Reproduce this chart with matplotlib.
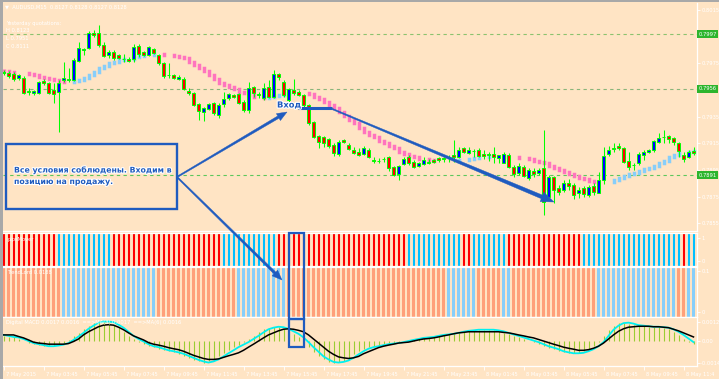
import numpy as np
import matplotlib
matplotlib.use("Agg")
import matplotlib.pyplot as plt
from matplotlib.patches import Rectangle, Polygon
from matplotlib.transforms import ScaledTranslation
import matplotlib.patheffects as pe

# ---------------- DATA (AUDUSD M15, prices in points = 1e-5) ----------------
open_pts = [79685, 79678, 79670, 79640, 79640, 79543, 79528, 79528, 79618, 79603,
            79550, 79535, 79625, 79625, 79625, 79768, 79850, 79865, 79978, 79978,
            79888, 79813, 79835, 79813, 79783, 79783, 79783, 79880, 79835, 79813,
            79858, 79813, 79753, 79663, 79663, 79633, 79633, 79543, 79528, 79445,
            79385, 79408, 79453, 79363, 79445, 79490, 79513, 79520, 79460, 79400,
            79573, 79520, 79490, 79573, 79498, 79670, 79610, 79475, 79550, 79535,
            79513, 79438, 79310, 79205, 79198, 79183, 79138, 79070, 79175, 79138,
            79100, 79085, 79070, 79100, 79025, 79018, 79033, 79048, 78973, 78920,
            78995, 79048, 79010, 78980, 78995, 79010, 79025, 79040, 79040, 79048,
            79063, 79048, 79115, 79078, 79093, 79100, 79070, 79070, 79070, 79040,
            79003, 79063, 78973, 78928, 78973, 78890, 78943, 78928, 78965, 78748,
            78898, 78815, 78800, 78853, 78838, 78778, 78815, 78763, 78830, 78778,
            78875, 79070, 79115, 79130, 79115, 79018, 78988, 79003, 79063, 79085,
            79100, 79160, 79198, 79205, 79190, 79153, 79063, 79048, 79093]
high_pts = [79700, 79693, 79685, 79670, 79655, 79565, 79550, 79618, 79633, 79610,
            79603, 79625, 79760, 79715, 79790, 79910, 79865, 79993, 80000, 80038,
            79910, 79850, 79850, 79820, 79820, 79798, 79895, 79895, 79843, 79880,
            79865, 79820, 79760, 79753, 79670, 79663, 79648, 79565, 79535, 79453,
            79423, 79453, 79460, 79453, 79535, 79528, 79520, 79528, 79475, 79610,
            79580, 79535, 79603, 79625, 79700, 79678, 79625, 79565, 79633, 79550,
            79520, 79445, 79318, 79213, 79205, 79190, 79153, 79175, 79183, 79153,
            79123, 79115, 79130, 79115, 79048, 79040, 79048, 79055, 78980, 78988,
            79048, 79063, 79025, 79010, 79048, 79033, 79033, 79048, 79048, 79063,
            79175, 79123, 79123, 79123, 79108, 79115, 79100, 79085, 79123, 79063,
            79085, 79078, 78988, 79003, 78988, 78965, 78965, 78965, 79250, 78913,
            78905, 78838, 78875, 78883, 78853, 78823, 78830, 78838, 78853, 78935,
            79123, 79130, 79153, 79153, 79123, 79085, 79003, 79085, 79100, 79108,
            79175, 79228, 79250, 79213, 79198, 79160, 79085, 79100, 79123]
low_pts = [79663, 79640, 79618, 79625, 79520, 79513, 79513, 79520, 79588, 79520,
           79453, 79235, 79610, 79610, 79618, 79760, 79813, 79858, 79948, 79873,
           79798, 79790, 79775, 79783, 79760, 79760, 79760, 79798, 79805, 79805,
           79820, 79738, 79640, 79640, 79633, 79625, 79550, 79513, 79430, 79325,
           79318, 79400, 79363, 79340, 79423, 79475, 79490, 79445, 79385, 79378,
           79498, 79490, 79475, 79490, 79490, 79625, 79498, 79460, 79513, 79505,
           79423, 79288, 79190, 79115, 79123, 79115, 79055, 79055, 79153, 79100,
           79070, 79055, 79063, 79040, 79003, 79003, 79010, 78943, 78905, 78875,
           78988, 78988, 78965, 78973, 78988, 78995, 79003, 79010, 79010, 79010,
           79010, 79040, 79078, 79070, 79048, 79048, 79033, 79018, 79003, 79003,
           79003, 78965, 78898, 78913, 78898, 78875, 78898, 78913, 78613, 78740,
           78703, 78763, 78785, 78800, 78733, 78740, 78748, 78748, 78763, 78778,
           78845, 79055, 79085, 79100, 79003, 78950, 78950, 78988, 79025, 79078,
           79085, 79153, 79153, 79153, 79138, 79048, 79010, 79040, 79063]
close_pts = [79678, 79655, 79633, 79663, 79528, 79535, 79543, 79610, 79603, 79528,
             79520, 79603, 79640, 79633, 79775, 79865, 79858, 79978, 79963, 79888,
             79805, 79835, 79790, 79790, 79779, 79768, 79873, 79820, 79813, 79873,
             79828, 79753, 79655, 79659, 79640, 79648, 79558, 79528, 79438, 79393,
             79415, 79445, 79378, 79438, 79483, 79520, 79498, 79453, 79400, 79565,
             79528, 79516, 79565, 79498, 79670, 79648, 79513, 79558, 79528, 79513,
             79438, 79303, 79198, 79160, 79153, 79130, 79078, 79160, 79160, 79108,
             79078, 79063, 79115, 79048, 79021, 79014, 79029, 78965, 78913, 78980,
             79033, 79003, 78973, 79003, 79025, 79006, 79010, 79025, 79036, 79044,
             79048, 79100, 79085, 79100, 79089, 79055, 79055, 79066, 79048, 79063,
             79070, 78973, 78920, 78980, 78905, 78950, 78920, 78950, 78710, 78898,
             78800, 78785, 78853, 78830, 78763, 78800, 78770, 78823, 78785, 78875,
             79055, 79100, 79111, 79115, 79010, 78973, 78984, 79070, 79085, 79100,
             79168, 79190, 79194, 79183, 79160, 79093, 79033, 79085, 79078]
ma_pts = [79693, 79685, 79681, 79678, 79674, 79670, 79659, 79648, 79640, 79633,
          79625, 79618, 79610, 79612, 79618, 79625, 79640, 79663, 79685, 79715,
          79730, 79753, 79760, 79775, 79783, 79786, 79798, 79805, 79813, 79816,
          79820, 79819, 79813, 79809, 79805, 79798, 79790, 79760, 79738, 79715,
          79693, 79663, 79633, 79603, 79588, 79573, 79558, 79535, 79528, 79513,
          79498, 79494, 79490, 79498, 79505, 79509, 79520, 79526, 79528, 79530,
          79528, 79520, 79498, 79483, 79460, 79438, 79415, 79385, 79355, 79325,
          79303, 79265, 79235, 79213, 79198, 79168, 79153, 79130, 79115, 79085,
          79070, 79055, 79048, 79033, 79029, 79025, 79018, 79016, 79015, 79014,
          79016, 79025, 79026, 79033, 79040, 79048, 79049, 79055, 79057, 79053,
          79050, 79048, 79046, 79040, 79038, 79033, 79018, 79010, 79003, 78980,
          78965, 78950, 78935, 78920, 78905, 78890, 78883, 78868, 78860, 78858,
          78860, 78862, 78875, 78890, 78905, 78920, 78928, 78943, 78958, 78965,
          78980, 79003, 79018, 79048, 79063, 79078, 79080, 79085, 79093]

# MACD panel (units of 1e-5)
macd_hist = [33, 26, 23, 13, 0, -13, -20, -26, -33, -33,
             -29, -23, -13, 7, 29, 52, 78, 98, 117, 124,
             124, 120, 104, 85, 59, 33, 13, -3, -20, -33,
             -39, -49, -59, -65, -72, -81, -94, -107, -120, -130,
             -137, -130, -117, -98, -78, -59, -39, -23, -7, 13,
             33, 55, 75, 85, 91, 88, 78, 62, 46, 23,
             -7, -39, -68, -98, -117, -133, -137, -133, -124, -107,
             -85, -65, -49, -39, -33, -26, -20, -16, -13, -7,
             0, 7, 13, 20, 23, 26, 33, 39, 42, 46,
             52, 59, 65, 68, 72, 72, 72, 72, 68, 62,
             52, 42, 33, 23, 13, 3, -7, -20, -33, -42,
             -52, -65, -72, -78, -78, -75, -65, -52, -33, -7,
             33, 72, 98, 114, 117, 111, 101, 98, 94, 91,
             91, 88, 85, 75, 59, 39, 16, -7, -20]
macd_ma3 = [39, 33, 26, 23, 13, 0, -13, -20, -26, -33,
            -33, -29, -23, -13, 7, 29, 52, 78, 98, 117,
            124, 124, 120, 104, 85, 59, 33, 13, -3, -20,
            -33, -39, -49, -59, -65, -72, -81, -94, -107, -120,
            -130, -137, -130, -117, -98, -78, -59, -39, -23, -7,
            13, 33, 55, 75, 85, 91, 88, 78, 62, 46,
            23, -7, -39, -68, -98, -117, -133, -137, -133, -124,
            -107, -85, -65, -49, -39, -33, -26, -20, -16, -13,
            -7, 0, 7, 13, 20, 23, 26, 33, 39, 42,
            46, 52, 59, 65, 68, 72, 72, 72, 72, 68,
            62, 52, 42, 33, 23, 13, 3, -7, -20, -33,
            -42, -52, -65, -72, -78, -78, -75, -65, -52, -33,
            -7, 33, 72, 98, 114, 117, 111, 101, 98, 94,
            91, 91, 88, 85, 75, 59, 39, 16, -7]
macd_ma6 = [39, 39, 39, 29, 20, 7, -7, -13, -16, -20,
            -20, -20, -20, -16, -3, 13, 39, 59, 75, 91,
            101, 104, 101, 88, 72, 52, 33, 20, 7, -10,
            -20, -26, -33, -42, -49, -55, -65, -78, -91, -101,
            -111, -117, -117, -114, -104, -94, -85, -75, -59, -39,
            -20, 0, 20, 39, 52, 65, 75, 78, 75, 68,
            59, 39, 13, -13, -39, -65, -85, -101, -107, -111,
            -107, -98, -81, -68, -55, -42, -33, -26, -20, -13,
            -10, -7, 0, 7, 13, 16, 20, 26, 33, 39,
            46, 52, 55, 59, 59, 59, 59, 59, 59, 59,
            55, 52, 46, 39, 33, 26, 20, 10, 0, -10,
            -20, -29, -39, -46, -52, -59, -59, -55, -46, -33,
            -13, 13, 39, 62, 78, 88, 91, 94, 94, 94,
            91, 91, 88, 85, 75, 65, 52, 39, 26]

# signal panel: r = sell (red), b = buy (blue)
signal_state = ("rrrrrrrrrrr" "bbbbbbbbbbb" "rrrrrrrrrrrrrrrrrrrrrr" "bbbbbbbbbbb"
                "rrrrrrrrrrrrrrrrrrrrrrrrrr" "bbbbbbbbbbb" "rr" "bbbbbbb"
                "rrrrrrrrrrrrrrr" "bbbbbbbbbbbbbbbbbbbb" "r" "bb")
# TrendLord panel: s = down (salmon), b = up (light blue)
trend_state = ("ssssssssssss" "bbbbbbbbbbbbbbbbbbb" "ssssssssssssssss" "bbbbbbbbbb"
               "ssssssssssssssssssssssssssssssss" "bbbbbb" "sssss" "bb"
               "sssssssssssssssss" "bbbbbbbbbbbbbbbb" "ss" "bb")

levels = [0.7997, 0.7956, 0.7891]
level_labels = ["0.7997", "0.7956", "0.7891"]
price_ticks = [0.8015, 0.7995, 0.7975, 0.7955, 0.7935, 0.7915, 0.7895, 0.7875, 0.7855]
price_tick_labels = ["0.8015", "", "0.7975", "", "0.7935", "0.7915", "0.7895", "0.7875", "0.7855"]
time_tick_bars = [0, 8, 16, 24, 32, 40, 48, 56, 64, 72, 80, 88, 96, 104, 112, 120, 128, 136]
time_labels = ["7 May 2015", "7 May 03:45", "7 May 05:45", "7 May 07:45", "7 May 09:45",
               "7 May 11:45", "7 May 13:45", "7 May 15:45", "7 May 17:45", "7 May 19:45",
               "7 May 21:45", "7 May 23:45", "8 May 01:45", "8 May 03:45", "8 May 05:45",
               "8 May 07:45", "8 May 09:45", "8 May 11:4"]

# ---------------- FIGURE ----------------
W, H, DPI = 719, 379, 100
BG = '#FFE4C4'
FONT = 'DejaVu Sans'
plt.rcParams['font.family'] = [FONT]
fig = plt.figure(figsize=(W / DPI, H / DPI), dpi=DPI, facecolor=BG)


def rect(x0, y0, x1, y1):
    return [x0 / W, 1 - y1 / H, (x1 - x0) / W, (y1 - y0) / H]


op = np.array(open_pts) / 1e5
hi = np.array(high_pts) / 1e5
lo = np.array(low_pts) / 1e5
cl = np.array(close_pts) / 1e5
ma = np.array(ma_pts) / 1e5
idx = np.arange(len(op))
XL = (-0.1, 138.7)
TICKFS = 3.7

ax1 = fig.add_axes(rect(3, 3, 697, 231))
ax2 = fig.add_axes(rect(3, 233, 697, 266))
ax3 = fig.add_axes(rect(3, 266.5, 697, 316.5))
ax4 = fig.add_axes(rect(3, 317, 697, 366))

for ax in (ax1, ax2, ax3, ax4):
    ax.set_facecolor(BG)
    ax.set_xlim(*XL)
    ax.spines['left'].set_visible(False)
    for s in ('right', 'top', 'bottom'):
        ax.spines[s].set_color('white')
        ax.spines[s].set_linewidth(0.9)
    ax.yaxis.tick_right()
    ax.tick_params(axis='y', colors='white', labelsize=TICKFS, length=2, width=0.6, pad=1.0)
    ax.tick_params(axis='x', bottom=False, labelbottom=False)
ax1.spines['top'].set_visible(False)

# ---- main price panel ----
ax1.set_ylim(0.784925, 0.802025)
ax1.set_yticks(price_ticks)
ax1.set_yticklabels(price_tick_labels)
for lv, col in zip(levels, ['#8CC26E', '#8AB57A', '#5CC85C']):
    ax1.axhline(lv, color=col, lw=0.8, ls=(0, (3, 3)), zorder=1)

prev = np.r_[ma[0], ma[:-1]]
rising = ma > prev
ma_cols = np.where(rising, '#87CEFA', '#FF74BE')
lc = ax1.vlines(idx[1:], prev[1:], ma[1:], colors=ma_cols[1:], lw=2.5, zorder=2)
lc.set_capstyle('projecting')
ax1.vlines(idx[:1], ma[:1] - 0.00012, ma[:1] + 0.00012, colors=ma_cols[:1], lw=2.5, zorder=2)

ax1.vlines(idx, lo, hi, color='#00FF00', lw=0.75, zorder=3)
bull = cl >= op
body_bot = np.minimum(op, cl)
body_h = np.maximum(np.abs(cl - op), 0.00002)
ax1.bar(idx, body_h, bottom=body_bot, width=0.62,
        color=np.where(bull, '#0000FF', '#FF0000'), edgecolor='#00FF00',
        linewidth=0.7, zorder=4)

for lv, lab in zip(levels, level_labels):
    ax1.annotate(lab, xy=(1.0, lv), xycoords=('axes fraction', 'data'),
                 xytext=(1.2, 0), textcoords='offset points', ha='left', va='center',
                 fontsize=TICKFS, color='white', zorder=6, annotation_clip=False,
                 bbox=dict(boxstyle='square,pad=0.3', fc='#2DB52D', ec='none'))

# ---- signal panel ----
ax2.set_ylim(-0.196, 1.196)
ax2.set_yticks([0, 1])
ax2.set_yticklabels(['0', '1'])
sig_cols = ['#FF0000' if s == 'r' else '#00BFFF' for s in signal_state]
ax2.vlines(idx, -0.196, 1.196, colors=sig_cols, lw=1.5)

# ---- TrendLord panel ----
ax3.set_ylim(-0.0122, 0.1098)
ax3.set_yticks([0, 0.1])
ax3.set_yticklabels(['0', '0.1'])
tr_cols = ['#FFA07A' if s == 's' else '#87CEFA' for s in trend_state]
ax3.bar(idx, 0.122, bottom=-0.0122, width=0.76, color=tr_cols, linewidth=0)

# ---- MACD panel ----
hist = np.array(macd_hist) * 1e-5
m3 = np.array(macd_ma3) * 1e-5
m6 = np.array(macd_ma6) * 1e-5
ax4.set_ylim(-0.00159, 0.00153)
ax4.set_yticks([-0.0014, 0, 0.0012])
ax4.set_yticklabels(['-0.0014', '0.00', '0.0012'])
ax4.vlines(idx, 0, hist, color='#9ACD32', lw=0.8, zorder=2)
ax4.plot(idx, m3, color='#00F0F0', lw=1.3, zorder=3)
ax4.plot(idx, m6, color='black', lw=1.1, zorder=4)
ax4.tick_params(axis='x', bottom=True, labelbottom=True, colors='white',
                labelsize=TICKFS, length=3, width=0.6, pad=1.5, direction='out')
ax4.set_xticks(time_tick_bars)
ax4.set_xticklabels(time_labels)
off = ScaledTranslation(2 / DPI, 0, fig.dpi_scale_trans)
for t in ax4.get_xticklabels():
    t.set_horizontalalignment('left')
    t.set_transform(t.get_transform() + off)

# ---------------- overlay (texts & drawing objects) ----------------
ov = fig.add_axes([0, 0, 1, 1], zorder=10)
ov.set_xlim(0, W)
ov.set_ylim(H, 0)
ov.axis('off')
ov.patch.set_alpha(0)

# window frame
ov.add_patch(Rectangle((0, 0), 2.5, H, fc='#A8A8A8', ec='none'))
ov.add_patch(Rectangle((0, 0), W, 1.5, fc='#A8A8A8', ec='none'))

wt = dict(color='white', fontsize=TICKFS, va='center', ha='left')
ov.text(5, 7, "\u25bc  AUDUSD,M15  0.8127 0.8128 0.8127 0.8128", **wt)
ov.text(6, 24, "Yesterday quotations:", **wt)
ov.text(6, 31, "H 0.8123", **wt)
ov.text(6, 38.5, "L 0.7951", **wt)
ov.text(6, 46, "C 0.8111", **wt)
ov.text(7, 240, "pipsMover", **wt)
ov.text(7, 272, "TrendLord 0.0188", **wt)
ov.text(6, 322.5, "Digital MACD 0.0017 0.0016  ==>MA(3) 0.0017  ==>MA(6) 0.0016", **wt)

BLUE = '#1F5BBF'
halo = [pe.withStroke(linewidth=1.6, foreground='white')]


def tapered_arrow(x0, y0, x1, y1, w0, w1, hl, hw):
    d = np.array([x1 - x0, y1 - y0], float)
    u = d / np.hypot(*d)
    n = np.array([-u[1], u[0]])
    p0 = np.array([x0, y0], float)
    tip = np.array([x1, y1], float)
    base = tip - u * hl
    pts = [p0 + n * w0 / 2, base + n * w1 / 2, base + n * hw / 2, tip,
           base - n * hw / 2, base - n * w1 / 2, p0 - n * w0 / 2]
    ov.add_patch(Polygon(pts, closed=True, fc=BLUE, ec=BLUE, lw=0.3))


ov.add_patch(Rectangle((6, 143.5), 171, 65, fc='none', ec=BLUE, lw=1.7))
ov.text(14, 170, "Все условия соблюдены. Входим в", color=BLUE, fontsize=5.6,
        fontweight='bold', va='center', ha='left', path_effects=halo)
ov.text(14, 181.5, "позицию на продажу.", color=BLUE, fontsize=5.6,
        fontweight='bold', va='center', ha='left', path_effects=halo)
tapered_arrow(177, 177, 287, 112, 1.3, 2.6, 10, 8)
tapered_arrow(177, 177, 282, 280, 1.3, 2.6, 10, 8)
ov.text(277, 105, "Вход", color=BLUE, fontsize=6, fontweight='bold',
        va='center', ha='left', path_effects=halo)
ov.plot([298, 332], [107.5, 107.5], color=BLUE, lw=2.2, solid_capstyle='butt')
tapered_arrow(330, 108, 554, 202, 1.2, 3.8, 13, 10)
ov.add_patch(Rectangle((288.5, 232.5), 15, 86, fc='none', ec=BLUE, lw=1.6))
ov.add_patch(Rectangle((288.5, 318.5), 15, 28.5, fc='none', ec=BLUE, lw=1.6))

fig.savefig("out.png", dpi=DPI, facecolor=BG)
